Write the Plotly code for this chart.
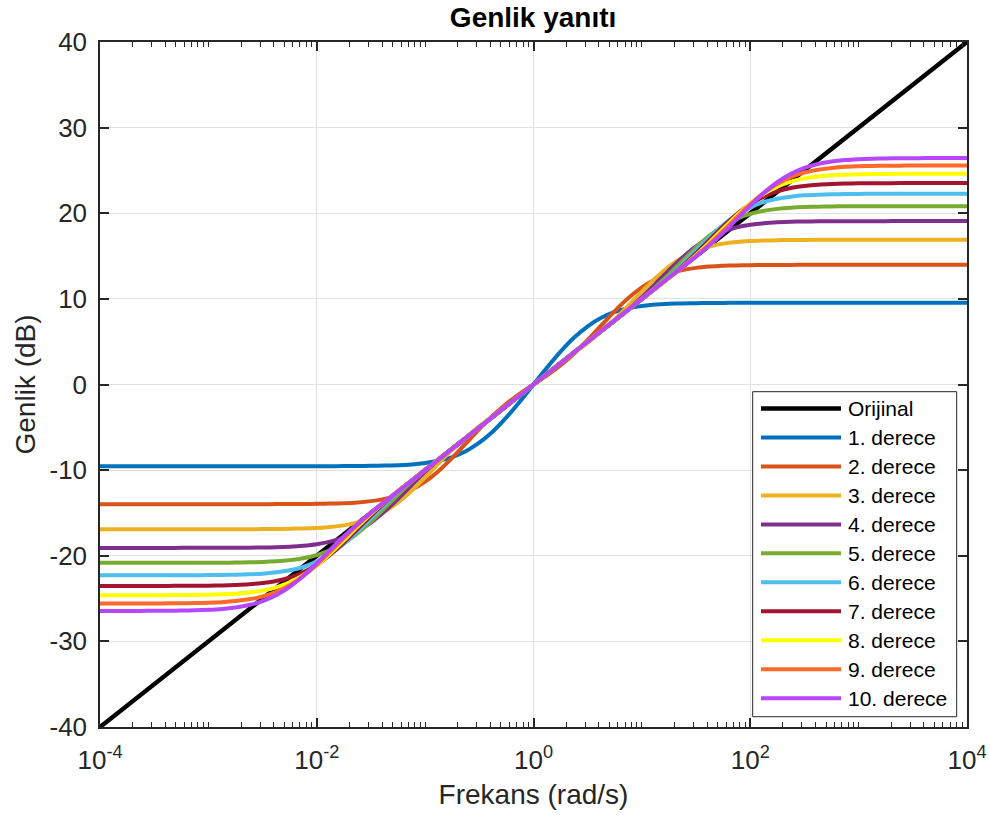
import plotly.graph_objects as go

# log10 of frequency (rad/s), common grid for all approximations
W_EXP = [-4.0, -3.875, -3.75, -3.625, -3.5, -3.375, -3.25, -3.125,
         -3.0, -2.875, -2.75, -2.625, -2.5, -2.375, -2.25, -2.125,
         -2.0, -1.875, -1.75, -1.625, -1.5, -1.375, -1.25, -1.125,
         -1.0, -0.875, -0.75, -0.625, -0.5, -0.375, -0.25, -0.125,
         0.0,
         0.125, 0.25, 0.375, 0.5, 0.625, 0.75, 0.875, 1.0,
         1.125, 1.25, 1.375, 1.5, 1.625, 1.75, 1.875, 2.0,
         2.125, 2.25, 2.375, 2.5, 2.625, 2.75, 2.875, 3.0,
         3.125, 3.25, 3.375, 3.5, 3.625, 3.75, 3.875, 4.0]

ORIG_W = [1e-4, 1e4]
ORIG_DB = [-40.0, 40.0]

DB_1 = [-9.54, -9.54, -9.54, -9.54, -9.54, -9.54, -9.54, -9.54,
        -9.54, -9.54, -9.54, -9.54, -9.54, -9.54, -9.54, -9.54,
        -9.54, -9.54, -9.53, -9.52, -9.50, -9.47, -9.42, -9.33,
        -9.17, -8.91, -8.47, -7.79, -6.80, -5.48, -3.84, -1.98,
        0.00,
        1.98, 3.84, 5.48, 6.80, 7.79, 8.47, 8.91, 9.17,
        9.33, 9.42, 9.47, 9.50, 9.52, 9.53, 9.54, 9.54,
        9.54, 9.54, 9.54, 9.54, 9.54, 9.54, 9.54, 9.54,
        9.54, 9.54, 9.54, 9.54, 9.54, 9.54, 9.54, 9.54]

DB_2 = [-13.98, -13.98, -13.98, -13.98, -13.98, -13.98, -13.98, -13.98,
        -13.98, -13.98, -13.98, -13.98, -13.98, -13.97, -13.97, -13.96,
        -13.94, -13.91, -13.86, -13.77, -13.62, -13.36, -12.94, -12.29,
        -11.34, -10.09, -8.57, -6.90, -5.21, -3.63, -2.24, -1.06,
        0.00,
        1.06, 2.24, 3.63, 5.21, 6.90, 8.57, 10.09, 11.34,
        12.29, 12.94, 13.36, 13.62, 13.77, 13.86, 13.91, 13.94,
        13.96, 13.97, 13.97, 13.98, 13.98, 13.98, 13.98, 13.98,
        13.98, 13.98, 13.98, 13.98, 13.98, 13.98, 13.98, 13.98]

DB_3 = [-16.90, -16.90, -16.90, -16.90, -16.90, -16.90, -16.90, -16.90,
        -16.90, -16.90, -16.90, -16.90, -16.89, -16.88, -16.85, -16.81,
        -16.75, -16.64, -16.45, -16.12, -15.61, -14.84, -13.77, -12.41,
        -10.85, -9.20, -7.61, -6.22, -4.88, -3.72, -2.52, -1.25,
        0.00,
        1.25, 2.52, 3.72, 4.88, 6.22, 7.61, 9.20, 10.85,
        12.41, 13.77, 14.84, 15.61, 16.12, 16.45, 16.64, 16.75,
        16.81, 16.85, 16.88, 16.89, 16.90, 16.90, 16.90, 16.90,
        16.90, 16.90, 16.90, 16.90, 16.90, 16.90, 16.90, 16.90]

DB_4 = [-19.09, -19.09, -19.09, -19.09, -19.09, -19.09, -19.08, -19.08,
        -19.08, -19.08, -19.07, -19.06, -19.04, -19.01, -18.94, -18.83,
        -18.65, -18.35, -17.86, -17.13, -16.12, -14.83, -13.34, -11.76,
        -10.21, -8.77, -7.46, -6.25, -5.00, -3.75, -2.50, -1.25,
        0.00,
        1.25, 2.50, 3.75, 5.00, 6.25, 7.46, 8.77, 10.21,
        11.76, 13.34, 14.83, 16.12, 17.13, 17.86, 18.35, 18.65,
        18.83, 18.94, 19.01, 19.04, 19.06, 19.07, 19.08, 19.08,
        19.08, 19.08, 19.09, 19.09, 19.09, 19.09, 19.09, 19.09]

DB_5 = [-20.83, -20.83, -20.83, -20.83, -20.83, -20.83, -20.83, -20.82,
        -20.82, -20.81, -20.80, -20.77, -20.73, -20.65, -20.51, -20.29,
        -19.92, -19.35, -18.51, -17.38, -16.00, -14.45, -12.88, -11.37,
        -9.99, -8.71, -7.48, -6.25, -5.00, -3.75, -2.50, -1.25,
        0.00,
        1.25, 2.50, 3.75, 5.00, 6.25, 7.48, 8.71, 9.99,
        11.37, 12.88, 14.45, 16.00, 17.38, 18.51, 19.35, 19.92,
        20.29, 20.51, 20.65, 20.73, 20.77, 20.80, 20.81, 20.82,
        20.82, 20.83, 20.83, 20.83, 20.83, 20.83, 20.83, 20.83]

DB_6 = [-22.28, -22.28, -22.28, -22.28, -22.28, -22.28, -22.27, -22.27,
        -22.26, -22.24, -22.22, -22.17, -22.09, -21.94, -21.70, -21.31,
        -20.69, -19.81, -18.63, -17.21, -15.65, -14.08, -12.59, -11.22,
        -9.96, -8.73, -7.50, -6.25, -5.00, -3.75, -2.50, -1.25,
        0.00,
        1.25, 2.50, 3.75, 5.00, 6.25, 7.50, 8.73, 9.96,
        11.22, 12.59, 14.08, 15.65, 17.21, 18.63, 19.81, 20.69,
        21.31, 21.70, 21.94, 22.09, 22.17, 22.22, 22.24, 22.26,
        22.27, 22.27, 22.28, 22.28, 22.28, 22.28, 22.28, 22.28]

DB_7 = [-23.52, -23.52, -23.52, -23.52, -23.52, -23.52, -23.51, -23.50,
        -23.49, -23.46, -23.41, -23.33, -23.18, -22.95, -22.55, -21.94,
        -21.06, -19.88, -18.47, -16.90, -15.33, -13.84, -12.47, -11.21,
        -9.98, -8.75, -7.50, -6.25, -5.00, -3.75, -2.50, -1.25,
        0.00,
        1.25, 2.50, 3.75, 5.00, 6.25, 7.50, 8.75, 9.98,
        11.21, 12.47, 13.84, 15.33, 16.90, 18.47, 19.88, 21.06,
        21.94, 22.55, 22.95, 23.18, 23.33, 23.41, 23.46, 23.49,
        23.50, 23.51, 23.52, 23.52, 23.52, 23.52, 23.52, 23.52]

DB_8 = [-24.61, -24.61, -24.61, -24.61, -24.60, -24.60, -24.59, -24.58,
        -24.55, -24.51, -24.43, -24.29, -24.07, -23.70, -23.11, -22.27,
        -21.13, -19.74, -18.20, -16.62, -15.12, -13.74, -12.46, -11.23,
        -10.00, -8.75, -7.50, -6.25, -5.00, -3.75, -2.50, -1.25,
        0.00,
        1.25, 2.50, 3.75, 5.00, 6.25, 7.50, 8.75, 10.00,
        11.23, 12.46, 13.74, 15.12, 16.62, 18.20, 19.74, 21.13,
        22.27, 23.11, 23.70, 24.07, 24.29, 24.43, 24.51, 24.55,
        24.58, 24.59, 24.60, 24.60, 24.61, 24.61, 24.61, 24.61]

DB_9 = [-25.58, -25.57, -25.57, -25.57, -25.57, -25.56, -25.55, -25.52,
        -25.49, -25.42, -25.29, -25.09, -24.76, -24.23, -23.44, -22.38,
        -21.04, -19.52, -17.94, -16.42, -15.01, -13.71, -12.47, -11.24,
        -10.00, -8.75, -7.50, -6.25, -5.00, -3.75, -2.50, -1.25,
        0.00,
        1.25, 2.50, 3.75, 5.00, 6.25, 7.50, 8.75, 10.00,
        11.24, 12.47, 13.71, 15.01, 16.42, 17.94, 19.52, 21.04,
        22.38, 23.44, 24.23, 24.76, 25.09, 25.29, 25.42, 25.49,
        25.52, 25.55, 25.56, 25.57, 25.57, 25.57, 25.57, 25.58]

DB_10 = [-26.44, -26.44, -26.44, -26.44, -26.43, -26.42, -26.40, -26.37,
         -26.31, -26.21, -26.04, -25.76, -25.30, -24.60, -23.62, -22.36,
         -20.88, -19.29, -17.73, -16.28, -14.96, -13.71, -12.49, -11.25,
         -10.00, -8.75, -7.50, -6.25, -5.00, -3.75, -2.50, -1.25,
         0.00,
         1.25, 2.50, 3.75, 5.00, 6.25, 7.50, 8.75, 10.00,
         11.25, 12.49, 13.71, 14.96, 16.28, 17.73, 19.29, 20.88,
         22.36, 23.62, 24.60, 25.30, 25.76, 26.04, 26.21, 26.31,
         26.37, 26.40, 26.42, 26.43, 26.44, 26.44, 26.44, 26.44]

SERIES_NAMES = ["Orijinal", "1. derece", "2. derece", "3. derece", "4. derece",
                "5. derece", "6. derece", "7. derece", "8. derece", "9. derece",
                "10. derece"]
APPROX_DB = [DB_1, DB_2, DB_3, DB_4, DB_5, DB_6, DB_7, DB_8, DB_9, DB_10]
COLORS = ["#000000", "#0072BD", "#D95319", "#EDB120", "#7E2F8E", "#77AC30",
          "#4DBEEE", "#A2142F", "#FFFF00", "#FF6929", "#B746FF"]

X_TICK_EXP = [-4, -2, 0, 2, 4]
Y_TICKS = [-40, -30, -20, -10, 0, 10, 20, 30, 40]

TITLE = "Genlik yanıtı"
X_LABEL = "Frekans (rad/s)"
Y_LABEL = "Genlik (dB)"

freq = [10 ** e for e in W_EXP]
AX = "#262626"
FONT = "Liberation Sans, Arial, Helvetica, sans-serif"

fig = go.Figure()
fig.add_trace(go.Scatter(x=ORIG_W, y=ORIG_DB, mode="lines", name=SERIES_NAMES[0],
                         line=dict(color=COLORS[0], width=4.5), showlegend=False))
for name, col, vals in zip(SERIES_NAMES[1:], COLORS[1:], APPROX_DB):
    fig.add_trace(go.Scatter(x=freq, y=vals, mode="lines", name=name, showlegend=False,
                             line=dict(color=col, width=4, shape="spline", smoothing=0.6)))

minor_vals = [k * 10.0 ** e for e in range(-4, 4) for k in range(1, 10)
              if not (k == 1 and e % 2 == 0)]

# legend box (drawn in plot-area paper coordinates)
LEG_X0, LEG_X1 = 0.7528, 0.9881
LEG_Y0, LEG_Y1 = 0.0150, 0.4895
LEG_TOP_ITEM = 0.4650      # centre of the first entry
LEG_STEP = 0.04230         # spacing between entries
LEG_LINE_X0, LEG_LINE_X1 = 0.7624, 0.8547
LEG_TEXT_X = 0.8605

shapes = [dict(type="rect", xref="paper", yref="paper", x0=LEG_X0, x1=LEG_X1,
               y0=LEG_Y0, y1=LEG_Y1, fillcolor="white", layer="above",
               line=dict(color=AX, width=1))]
annotations = []
for i, (name, col) in enumerate(zip(SERIES_NAMES, COLORS)):
    yc = LEG_TOP_ITEM - i * LEG_STEP
    shapes.append(dict(type="line", xref="paper", yref="paper", x0=LEG_LINE_X0,
                       x1=LEG_LINE_X1, y0=yc, y1=yc, layer="above",
                       line=dict(color=col, width=4.5 if i == 0 else 4)))
    annotations.append(dict(text=name, xref="paper", yref="paper", x=LEG_TEXT_X, y=yc,
                            xanchor="left", yanchor="middle", showarrow=False,
                            font=dict(size=21, color="#000000", family=FONT)))

fig.update_layout(
    width=990, height=819,
    margin=dict(l=100, r=23, t=42, b=92),
    paper_bgcolor="white", plot_bgcolor="white",
    font=dict(family=FONT, color=AX, size=26),
    title=dict(text=TITLE, x=0.5385, xanchor="center", y=0.979, yanchor="middle",
               yref="container", font=dict(size=28, color="#000000", weight="bold")),
    showlegend=False,
    shapes=shapes, annotations=annotations,
    xaxis=dict(type="log", range=[-4, 4], automargin=False,
               tickvals=[10.0 ** e for e in X_TICK_EXP],
               ticktext=["10<sup>%d</sup>" % e for e in X_TICK_EXP],
               ticks="inside", ticklen=9, tickwidth=1.5, tickcolor=AX,
               showline=True, linecolor=AX, linewidth=1.5, mirror="ticks",
               showgrid=True, gridcolor="#e1e1e1", gridwidth=1, zeroline=False,
               minor=dict(tickvals=minor_vals, ticks="inside", ticklen=5,
                          tickwidth=1.2, tickcolor=AX, showgrid=False),
               ticklabelstandoff=9,
               title=dict(text=X_LABEL, font=dict(size=28), standoff=10),
               tickfont=dict(size=26)),
    yaxis=dict(range=[-40, 40], automargin=False,
               tickvals=Y_TICKS, ticktext=[str(v) for v in Y_TICKS],
               ticks="inside", ticklen=9, tickwidth=1.5, tickcolor=AX,
               showline=True, linecolor=AX, linewidth=1.5, mirror="ticks",
               showgrid=True, gridcolor="#e1e1e1", gridwidth=1, zeroline=False,
               ticklabelstandoff=6,
               title=dict(text=Y_LABEL, font=dict(size=28), standoff=6),
               tickfont=dict(size=26)),
)

fig.write_html("out.html")
